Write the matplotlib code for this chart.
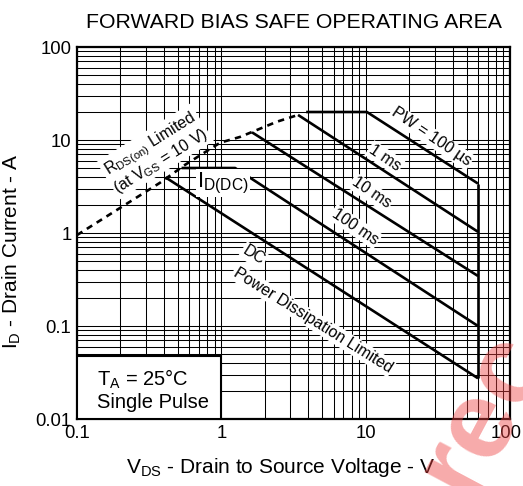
import matplotlib
matplotlib.use('Agg')
import matplotlib.pyplot as plt
from matplotlib.patches import Rectangle
from matplotlib.transforms import ScaledTranslation
from matplotlib.ticker import FixedLocator, FixedFormatter, NullFormatter, LogLocator

plt.rcParams['font.family'] = ['Liberation Sans', 'DejaVu Sans']
plt.rcParams['mathtext.fontset'] = 'custom'
plt.rcParams['mathtext.rm'] = 'Liberation Sans'
plt.rcParams['mathtext.it'] = 'Liberation Sans'
plt.rcParams['mathtext.default'] = 'regular'

# RDS(on) limit (dashed)
rds_v = [0.1, 0.376, 0.56, 0.98, 1.35, 2.42, 3.4]
rds_i = [0.95, 3.47, 5.4, 9.35, 10.8, 15.7, 18.6]

# pulse curves
pw100us_v = [3.87, 10.2, 60]
pw100us_i = [20, 20, 3.4]
ms1_v = [3.4, 60]
ms1_i = [18.6, 1.03]
ms10_v = [1.63, 60]
ms10_i = [12.1, 0.345]
ms100_v = [0.53, 1.245, 60]
ms100_i = [5, 5, 0.1]
dc_v = [0.41, 60]
dc_i = [3.97, 0.0274]
vmax_v = [60, 60]
vmax_i = [3.4, 0.0274]

x_ticks = [0.1, 1, 10, 100]
x_labels = ['0.1', '1', '10', '100']
y_ticks = [0.01, 0.1, 1, 10, 100]
y_labels = ['0.01', '0.1', '1', '10', '100']

fig = plt.figure(figsize=(5.23, 4.86), dpi=100)
ax = fig.add_axes([77/523, 1 - 419/486, 433/523, 372/486])
ax.set_xscale('log')
ax.set_yscale('log')
ax.set_xlim(0.1, 100)
ax.set_ylim(0.01, 100)

ax.xaxis.set_major_locator(FixedLocator(x_ticks))
ax.xaxis.set_major_formatter(FixedFormatter(x_labels))
ax.yaxis.set_major_locator(FixedLocator(y_ticks))
ax.yaxis.set_major_formatter(FixedFormatter(y_labels))
ax.xaxis.set_minor_locator(LogLocator(base=10, subs=range(2, 10)))
ax.yaxis.set_minor_locator(LogLocator(base=10, subs=range(2, 10)))
ax.xaxis.set_minor_formatter(NullFormatter())
ax.yaxis.set_minor_formatter(NullFormatter())
ax.tick_params(which='both', length=0, labelsize=13.3, pad=4)
ax.grid(True, which='both', color='black', linewidth=0.75)
ax.set_axisbelow(True)
for s in ax.spines.values():
    s.set_linewidth(1.6)

# nudge the last x label so it stays inside the picture
fig.canvas.draw()
last = ax.get_xticklabels()[-1]
last.set_transform(last.get_transform() + ScaledTranslation(-0.04, 0, fig.dpi_scale_trans))

lw = 1.9
ax.plot(rds_v, rds_i, color='black', lw=lw, dashes=(2.4, 2.0))
for v, i in [(pw100us_v, pw100us_i), (ms1_v, ms1_i), (ms10_v, ms10_i),
             (ms100_v, ms100_i), (dc_v, dc_i), (vmax_v, vmax_i)]:
    ax.plot(v, i, color='black', lw=lw, solid_capstyle='butt')

wb = dict(facecolor='white', edgecolor='none', pad=1.0)
ax.text(0.35, 7.4, 'R$_{DS(on)}$ Limited\n(at V$_{GS}$ = 10 V)', rotation=32,
        ha='center', va='center', fontsize=11.5, bbox=wb, linespacing=1.0)
ax.text(28.4, 10.8, 'PW = 100 µs', rotation=-34, ha='center', va='center',
        fontsize=11.5, bbox=wb)
ax.text(13.6, 6.4, '1 ms', rotation=-34, ha='center', va='center',
        fontsize=11.5, bbox=wb)
ax.text(10.9, 2.7, '10 ms', rotation=-34, ha='center', va='center',
        fontsize=11.5, bbox=wb)
ax.text(8.45, 1.17, '100 ms', rotation=-34, ha='center', va='center',
        fontsize=11.5, bbox=wb)
ax.text(1.03, 3.45, 'I$_{D(DC)}$', ha='center', va='center', fontsize=16, bbox=wb)
ax.text(1.67, 0.57, 'DC', rotation=-32, ha='center', va='center',
        fontsize=11.5, bbox=wb)
ax.text(4.3, 0.115, 'Power Dissipation Limited', rotation=-32, ha='center',
        va='center', fontsize=11.5, bbox=wb)

ax.add_patch(Rectangle((0.1, 0.01), 0.9, 0.0375, facecolor='white',
                       edgecolor='black', lw=1.5, zorder=3))
ax.text(0.138, 0.0205, 'T$_A$ = 25°C\nSingle Pulse', ha='left', va='center',
        fontsize=14.5, zorder=4, linespacing=1.1)

ax.set_title('FORWARD BIAS SAFE OPERATING AREA', fontsize=15.3, pad=14)
ax.set_xlabel('V$_{DS}$ - Drain to Source Voltage - V', fontsize=15)
ax.set_ylabel('I$_D$ - Drain Current - A', fontsize=15)
ax.xaxis.set_label_coords(0.47, -0.1)
ax.yaxis.set_label_coords(-0.125, 0.45)

# watermark
fig.text(470/523, 1 - 500/486, 'rec', rotation=62, rotation_mode='anchor',
         fontsize=80, fontweight='bold', color='#ee4444', alpha=0.45,
         ha='left', va='baseline')

fig.savefig('out.png', dpi=100)
